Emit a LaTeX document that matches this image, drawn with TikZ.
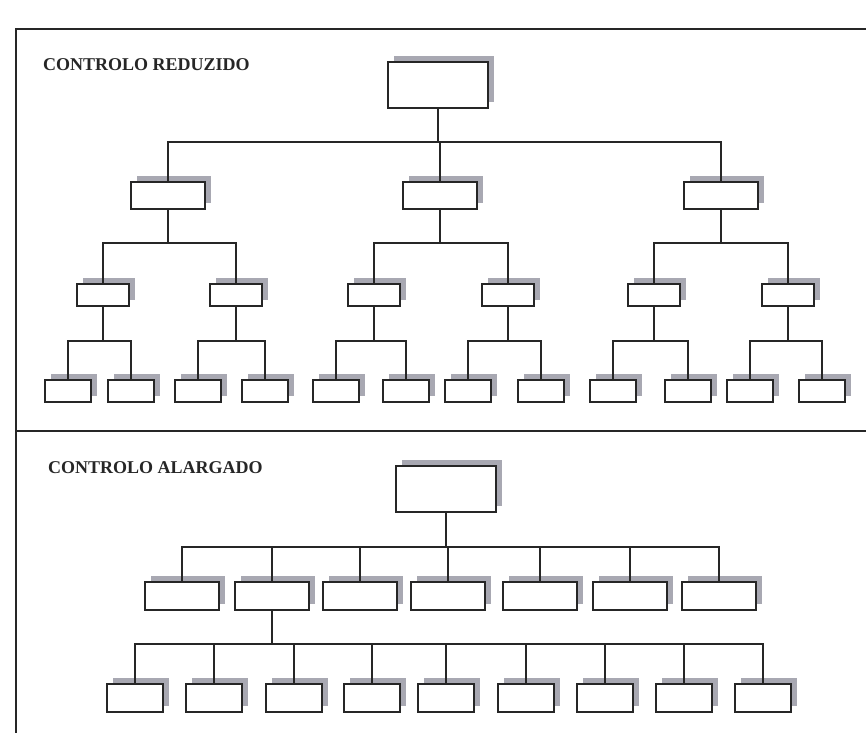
\documentclass[tikz,border=0pt]{standalone}
\usepackage{fontspec}
\setmainfont{Liberation Serif}
\usetikzlibrary{shadows}
\definecolor{shade}{RGB}{168,168,178}
\definecolor{ink}{RGB}{38,38,38}
\begin{document}
\begin{tikzpicture}[x=1pt,y=-1pt,
  unit/.style={draw=ink, line width=2pt, fill=white, inner sep=0pt,
    general shadow={fill=shade, shadow xshift=6pt, shadow yshift=6pt}},
  headbox/.style={unit, minimum width=100pt, minimum height=46pt},
  midbox/.style={unit, minimum width=74pt, minimum height=27pt},
  lowbox/.style={unit, minimum width=52pt, minimum height=22pt},
  leafbox/.style={unit, minimum width=46pt, minimum height=22pt},
  widebox/.style={unit, minimum width=56pt, minimum height=28pt},
  link/.style={draw=ink, line width=1.8pt},
  rule/.style={draw=ink, line width=2pt},
  heading/.style={anchor=base west, inner sep=0pt, text=ink,
    font=\fontsize{18}{20}\selectfont\bfseries}]

\useasboundingbox[fill=white] (0,0) rectangle (866,733);

% frame
\coordinate (fTL) at (16,29);
\coordinate (fTR) at (866,29);
\coordinate (fBL) at (16,733);
\coordinate (fML) at (16,431);
\coordinate (fMR) at (866,431);
\draw[rule] (fTR) -- (fTL) -- (fBL);
\draw[rule] (fML) -- (fMR);

% ---------- narrow span of control ----------
\node[heading] (t1) at (43,71) {CONTROLO REDUZIDO};

\node[headbox] (r) at (438,85) {};

\node[midbox] (u1) at (168,195.5) {};
\node[midbox] (u2) at (440,195.5) {};
\node[midbox] (u3) at (721,195.5) {};

\node[lowbox] (u11) at (103,295) {};
\node[lowbox] (u12) at (236,295) {};
\node[lowbox] (u21) at (374,295) {};
\node[lowbox] (u22) at (508,295) {};
\node[lowbox] (u31) at (654,295) {};
\node[lowbox] (u32) at (788,295) {};

\node[leafbox] (u111) at (68,391) {};
\node[leafbox] (u112) at (131,391) {};
\node[leafbox] (u121) at (198,391) {};
\node[leafbox] (u122) at (265,391) {};
\node[leafbox] (u211) at (336,391) {};
\node[leafbox] (u212) at (406,391) {};
\node[leafbox] (u221) at (468,391) {};
\node[leafbox] (u222) at (541,391) {};
\node[leafbox] (u311) at (613,391) {};
\node[leafbox] (u312) at (688,391) {};
\node[leafbox] (u321) at (750,391) {};
\node[leafbox] (u322) at (822,391) {};

\coordinate (ubA) at (0,142);
\coordinate (ubB) at (0,243);
\coordinate (ubC) at (0,341);

\foreach \c in {u1,u2,u3}
  \draw[link] (r.south) -- (r.south |- ubA) -| (\c.north);
\foreach \p in {u1,u2,u3}
  \foreach \k in {1,2}
    \draw[link] (\p.south) -- (\p.south |- ubB) -| (\p\k.north);
\foreach \p in {u11,u12,u21,u22,u31,u32}
  \foreach \k in {1,2}
    \draw[link] (\p.south) -- (\p.south |- ubC) -| (\p\k.north);

% ---------- wide span of control ----------
\node[heading] (t2) at (48,473) {CONTROLO ALARGADO};

\node[headbox] (s) at (446,489) {};

\node[midbox, minimum height=28pt] (w1) at (182,596) {};
\node[midbox, minimum height=28pt] (w2) at (272,596) {};
\node[midbox, minimum height=28pt] (w3) at (360,596) {};
\node[midbox, minimum height=28pt] (w4) at (448,596) {};
\node[midbox, minimum height=28pt] (w5) at (540,596) {};
\node[midbox, minimum height=28pt] (w6) at (630,596) {};
\node[midbox, minimum height=28pt] (w7) at (719,596) {};

\node[widebox] (v1) at (135,698) {};
\node[widebox] (v2) at (214,698) {};
\node[widebox] (v3) at (294,698) {};
\node[widebox] (v4) at (372,698) {};
\node[widebox] (v5) at (446,698) {};
\node[widebox] (v6) at (526,698) {};
\node[widebox] (v7) at (605,698) {};
\node[widebox] (v8) at (684,698) {};
\node[widebox] (v9) at (763,698) {};

\coordinate (wbA) at (0,547);
\coordinate (wbB) at (0,644);

\foreach \c in {w1,w2,w3,w4,w5,w6,w7}
  \draw[link] (s.south) -- (s.south |- wbA) -| (\c.north);
\foreach \c in {v1,v2,v3,v4,v5,v6,v7,v8,v9}
  \draw[link] (w2.south) -- (w2.south |- wbB) -| (\c.north);

\end{tikzpicture}
\end{document}
